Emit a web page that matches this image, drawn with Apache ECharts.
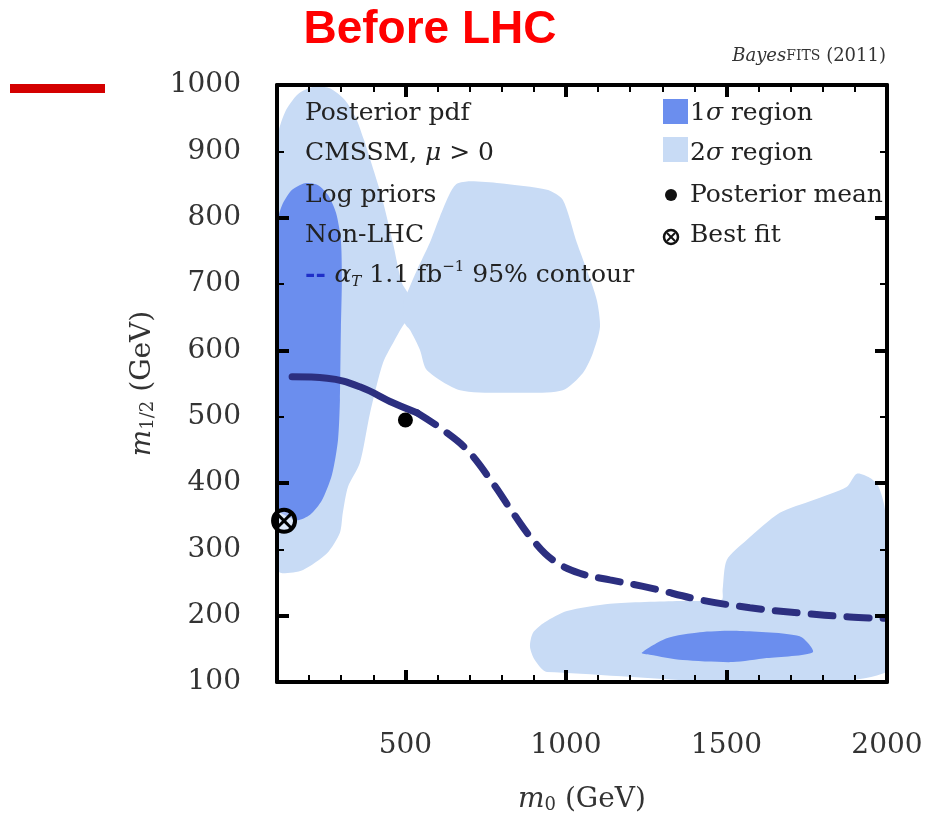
<!DOCTYPE html>
<html><head><meta charset="utf-8">
<script src="https://cdn.jsdelivr.net/npm/echarts@6/dist/echarts.min.js"></script>
<style>html,body{margin:0;padding:0;background:#fff}#c{width:938px;height:825px}</style>
</head><body><div id="c"></div>
<script>
// Axis ranges and ticks
const xRange = [100, 2000];
const yRange = [100, 1000];
const xLabelValues = [500, 1000, 1500, 2000];
const xMajorTicks = [500, 1000, 1500];
const xMinorTicks = [200, 300, 400, 600, 700, 800, 900, 1100, 1200, 1300, 1400, 1600, 1700, 1800, 1900];
const yLabelValues = [100, 200, 300, 400, 500, 600, 700, 800, 900, 1000];
const yMajorTicks = [200, 400, 600, 800];
const yMinorTicks = [300, 500, 700, 900];

// 2 sigma regions (m0, m1/2)
const sigma2Left = [[100,917],[125,959],[165,986],[218,998],[265,995],[312,977],[346,950],[371,917],[396,879],[427,830],[461,762],[489,702],[520,676],[520,645],[498,641],[467,616],[430,581],[390,506],[358,430],[321,394],[305,355],[296,325],[256,294],[181,269],[119,264],[100,269]];
const sigma2Middle = [[639,837],[660,851],[701,855],[794,852],[941,842],[990,827],[1034,762],[1065,721],[1096,676],[1106,635],[1084,596],[1053,566],[990,540],[856,536],[670,540],[567,570],[545,601],[514,631],[498,641],[495,676],[505,686],[536,721],[576,762],[607,801]];
const sigma2Bottom = [[888,153],[897,174],[934,190],[1003,207],[1137,218],[1355,222],[1485,224],[1488,239],[1501,284],[1563,314],[1666,355],[1769,374],[1874,394],[1906,414],[1946,408],[1971,397],[1990,370],[2000,329],[2000,115],[941,115],[903,133]];
// 1 sigma regions
const sigma1Left = [[100,789],[116,819],[147,842],[187,852],[228,849],[259,834],[284,807],[299,766],[302,706],[299,631],[296,525],[290,465],[271,412],[240,374],[203,352],[165,344],[122,352],[100,362]];
const sigma1Bottom = [[1236,144],[1314,166],[1417,175],[1541,177],[1728,169],[1769,145],[1625,136],[1520,130],[1364,133],[1261,141]];

// alpha_T 95% contour
const contourSolid = [[147,560],[256,558],[358,545],[461,521],[536,506]];
const contourDashed = [[536,506],[617,480],[692,450],[772,400],[835,355],[897,314],[959,284],[1043,264],[1137,254],[1261,242],[1417,224],[1573,212],[1728,204],[1884,198],[1990,196]];

// Markers
const posteriorMean = [[500, 495]];
const bestFit = [[122, 343]];

const C1 = '#6b8eee';
const C2 = '#c8dbf5';
const LINEC = '#2c2f80';
const SERIF = '"DejaVu Serif", serif';
const TXT = '#222';
const FS = 25;

function polySeries(poly, color) {
  return {
    type: 'custom', coordinateSystem: 'cartesian2d', silent: true, clip: true,
    data: [poly[0]],
    renderItem: function (params, api) {
      return { type: 'polygon', shape: { points: poly.map(p => api.coord(p)), smooth: 0.25 }, style: { fill: color } };
    }
  };
}

const chart = echarts.init(document.getElementById('c'));
const plain = v => String(v);

function xAx(pos, ticks, len, w, labels, lineShow) {
  return {
    type: 'value', position: pos, min: xRange[0], max: xRange[1], z: 10,
    splitLine: { show: false },
    axisLine: { show: lineShow, onZero: false, lineStyle: { color: '#000', width: 4 } },
    axisTick: { show: true, inside: true, length: len, lineStyle: { color: '#000', width: w }, customValues: ticks },
    axisLabel: labels ? { show: true, customValues: labels, formatter: plain, margin: 50, fontFamily: SERIF, fontSize: 28, color: '#333' } : { show: false }
  };
}
function yAx(pos, ticks, len, w, labels, lineShow) {
  return {
    type: 'value', position: pos, min: yRange[0], max: yRange[1], z: 10,
    splitLine: { show: false },
    axisLine: { show: lineShow, onZero: false, lineStyle: { color: '#000', width: 4 } },
    axisTick: { show: true, inside: true, length: len, lineStyle: { color: '#000', width: w }, customValues: ticks },
    axisLabel: labels ? { show: true, customValues: labels, formatter: plain, margin: 36, fontFamily: SERIF, fontSize: 28, color: '#333' } : { show: false }
  };
}

const nameRich = { i: { fontFamily: SERIF, fontStyle: 'italic', fontSize: 28, color: '#333' }, s: { fontFamily: SERIF, fontSize: 18, color: '#333', verticalAlign: 'bottom', padding: [10, 0, 0, 0] } };
const xAxes = [
  Object.assign(xAx('bottom', xMajorTicks, 12, 4, xLabelValues, true), {
    name: '{i|m}{s|0} (GeV)', nameLocation: 'middle', nameGap: 104,
    nameTextStyle: { fontFamily: SERIF, fontSize: 28, color: '#333', rich: nameRich }
  }),
  xAx('bottom', xMinorTicks, 7, 2, null, false),
  xAx('top', xMajorTicks, 12, 4, null, true),
  xAx('top', xMinorTicks, 7, 2, null, false)
];
const yAxes = [
  Object.assign(yAx('left', yMajorTicks, 12, 4, yLabelValues, true), {
    name: '{i|m}{s|1/2} (GeV)', nameLocation: 'middle', nameGap: 120, nameRotate: 90,
    nameTextStyle: { fontFamily: SERIF, fontSize: 28, color: '#333', rich: nameRich }
  }),
  yAx('left', yMinorTicks, 7, 2, null, false),
  yAx('right', yMajorTicks, 12, 4, null, true),
  yAx('right', yMinorTicks, 7, 2, null, false)
];

const series = [
  polySeries(sigma2Left, C2),
  polySeries(sigma2Middle, C2),
  polySeries(sigma2Bottom, C2),
  polySeries(sigma1Left, C1),
  polySeries(sigma1Bottom, C1),
  { type: 'line', data: contourSolid, smooth: 0.4, symbol: 'none', silent: true,
    lineStyle: { color: LINEC, width: 7, cap: 'round' }, z: 4 },
  { type: 'line', data: contourDashed, smooth: 0.4, symbol: 'none', silent: true,
    lineStyle: { color: LINEC, width: 7, type: [22, 14], cap: 'round' }, z: 4 },
  { type: 'scatter', data: posteriorMean, symbol: 'circle', symbolSize: 15, itemStyle: { color: '#000', opacity: 1 }, z: 5, silent: true },
  { type: 'custom', data: bestFit, z: 6, silent: true,
    renderItem: function (params, api) {
      const c = api.coord([api.value(0), api.value(1)]);
      const r = 11, d = r * 0.7;
      return { type: 'group', children: [
        { type: 'circle', shape: { cx: c[0], cy: c[1], r: r }, style: { fill: 'rgba(255,255,255,0.4)', stroke: '#000', lineWidth: 4 } },
        { type: 'line', shape: { x1: c[0] - d, y1: c[1] - d, x2: c[0] + d, y2: c[1] + d }, style: { stroke: '#000', lineWidth: 3 } },
        { type: 'line', shape: { x1: c[0] - d, y1: c[1] + d, x2: c[0] + d, y2: c[1] - d }, style: { stroke: '#000', lineWidth: 3 } }
      ] };
    }
  }
];

const F = FS + 'px ' + SERIF;
const FI = 'italic ' + FS + 'px ' + SERIF;
const textAt = (txt, x, yc, extra) => ({ type: 'text', x: x, y: yc, z: 20, silent: true,
  style: Object.assign({ text: txt, font: F, fill: TXT, verticalAlign: 'middle' }, extra || {}) });
const mixRich = { n: { font: F, fill: TXT }, i: { font: FI, fill: TXT } };

const graphics = [
  { type: 'text', x: 430, y: 30, z: 20, style: { text: 'Before LHC', font: 'bold 46px "Liberation Sans", Arial, sans-serif', fill: '#ff0000', align: 'center', verticalAlign: 'middle' } },
  { type: 'rect', shape: { x: 10, y: 84, width: 95, height: 9 }, style: { fill: '#d40000' } },
  { type: 'text', x: 886, y: 56, z: 20, style: { text: '{i|Bayes}{sc|FITS}{n| (2011)}', align: 'right', verticalAlign: 'middle',
    rich: { i: { font: 'italic 18px ' + SERIF, fill: '#333' }, sc: { font: '14px ' + SERIF, fill: '#333' }, n: { font: '18px ' + SERIF, fill: '#333' } } } },
  textAt('Posterior pdf', 305, 113),
  textAt('{n|CMSSM, }{i|μ}{n| > 0}', 305, 153, { rich: mixRich }),
  textAt('Log priors', 305, 195),
  textAt('Non-LHC', 305, 235),
  textAt('{d|-- }{i|α}{s|T}{n| 1.1 fb}{p|−1}{n| 95% contour}', 305, 275, { rich: {
    d: { font: 'bold ' + F, fill: '#1f2fc8', lineHeight: 30 },
    n: { font: F, fill: TXT, lineHeight: 30 },
    i: { font: FI, fill: TXT, lineHeight: 30 },
    s: { font: 'italic 15px ' + SERIF, fill: TXT, verticalAlign: 'bottom', lineHeight: 30 },
    p: { font: '15px ' + SERIF, fill: TXT, verticalAlign: 'top', lineHeight: 30 } } }),
  { type: 'rect', shape: { x: 663, y: 99, width: 25, height: 25 }, style: { fill: C1 }, z: 20 },
  textAt('{n|1}{i|σ}{n| region}', 690, 113, { rich: mixRich }),
  { type: 'rect', shape: { x: 663, y: 137, width: 25, height: 25 }, style: { fill: C2 }, z: 20 },
  textAt('{n|2}{i|σ}{n| region}', 690, 153, { rich: mixRich }),
  { type: 'circle', shape: { cx: 671, cy: 195, r: 6 }, style: { fill: '#111' }, z: 20 },
  textAt('Posterior mean', 690, 195),
  { type: 'group', z: 20, children: [
    { type: 'circle', shape: { cx: 671, cy: 237, r: 7 }, style: { fill: 'none', stroke: '#111', lineWidth: 2.5 } },
    { type: 'line', shape: { x1: 667, y1: 233, x2: 675, y2: 241 }, style: { stroke: '#111', lineWidth: 2 } },
    { type: 'line', shape: { x1: 667, y1: 241, x2: 675, y2: 233 }, style: { stroke: '#111', lineWidth: 2 } }
  ] },
  textAt('Best fit', 690, 235)
];

chart.setOption({
  animation: false,
  backgroundColor: '#fff',
  grid: { left: 277, right: 51, top: 85, bottom: 143, containLabel: false, outerBoundsMode: 'none' },
  xAxis: xAxes,
  yAxis: yAxes,
  series: series.map(s => Object.assign({ xAxisIndex: 0, yAxisIndex: 0 }, s)),
  graphic: graphics
});
</script>
</body></html>
